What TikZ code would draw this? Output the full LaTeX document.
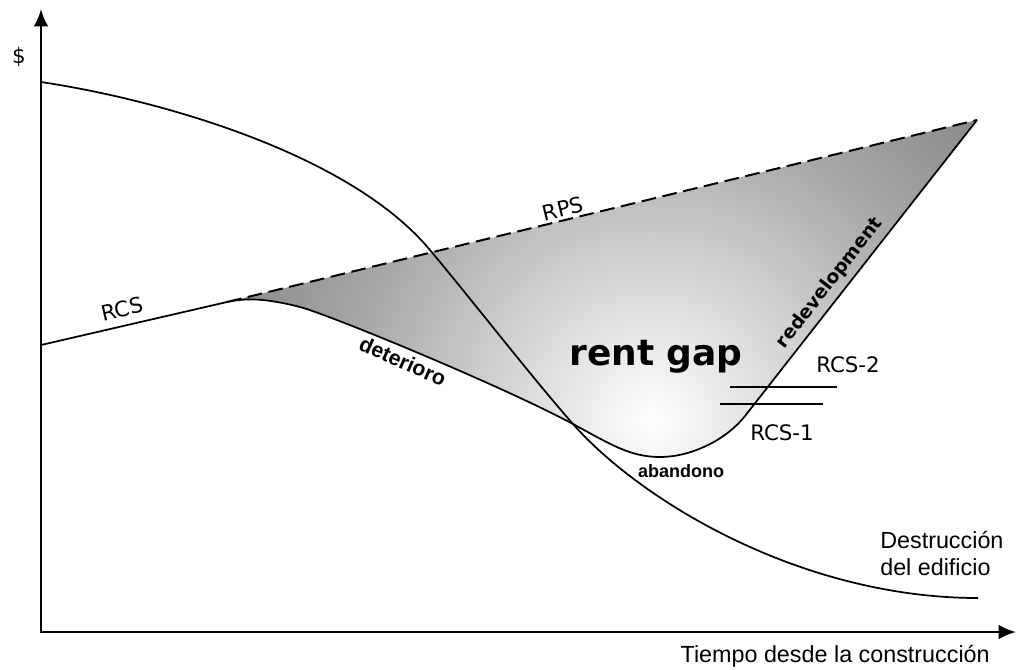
\documentclass[tikz,border=0pt]{standalone}
\usepackage{fontspec}
\usetikzlibrary{arrows.meta}
\newfontfamily\verdfont{DejaVu Sans}
\newfontfamily\arialfont{Liberation Sans}

\tikzset{
  axisline/.style={line width=2pt, {Latex[length=13pt,width=11pt]}-{Latex[length=13pt,width=11pt]}},
  rentcurve/.style={line width=1.3pt},
  rpsline/.style={line width=1.5pt, dash pattern=on 11pt off 5pt},
  lbl/.style={font=\verdfont\fontsize{16}{19}\selectfont, inner sep=0pt},
  phase/.style={inner sep=0pt},
  axislbl/.style={font=\arialfont\fontsize{17.5}{20}\selectfont, inner sep=0pt, align=left},
}

% glow of the gap, light at the bottom of the U
\pgfdeclareradialshading{gapglow}{\pgfpointorigin}{color(0bp)=(white); color(7.5bp)=(black!20); color(12.5bp)=(black!34); color(19bp)=(black!47); color(29bp)=(black!56); color(50bp)=(black!56)}

% capitalized ground rent, from the RPS start to the redevelopment line
\newcommand\rcspath{(rpsA) .. controls (245,298) and (265,298) .. (300,307) .. controls (330,315) and (500,385) .. (cross) .. controls (610,444) and (630,457) .. (660,457) .. controls (690,457) and (725,441) .. (745,416) -- (rpsB)}

\begin{document}
\begin{tikzpicture}[x=0.75pt,y=0.75pt,yscale=-1,xscale=1]
\useasboundingbox (0,0) rectangle (1017,669);

\coordinate (O) at (41,632);
\coordinate (ytop) at (41,9);
\coordinate (xend) at (1016,632);
\coordinate (rcs0) at (41,345);
\coordinate (rpsA) at (227,302);
\coordinate (rpsB) at (977,120);
\coordinate (cross) at (573,424);

%Shaded gap
\begin{scope}
\clip \rcspath -- cycle;
\shade[shading=gapglow] (652,420) circle (600);
\end{scope}

%Axes
\draw[axisline] (ytop) -- (O) -- (xend);

%RCS curve
\draw[rentcurve] (rcs0) -- \rcspath;
%RPS
\draw[rpsline] (rpsA) -- (rpsB);
%Building value
\draw[rentcurve] (41,82) .. controls (161,100) and (350,154) .. (430,250) .. controls (480,310) and (530,375) .. (cross) .. controls (640,500) and (800,598) .. (978,598);

%RCS-1 and RCS-2 levels
\coordinate (r2a) at (730,387);
\coordinate (r2b) at (837,387);
\coordinate (r1a) at (720,404);
\coordinate (r1b) at (823,404);
\draw[rentcurve] (r2a) -- (r2b);
\draw[rentcurve] (r1a) -- (r1b);

% Text Node
\node[lbl] (dollar) at (19,57) {\$};
% Text Node
\node[lbl, rotate=13] (rcs) at (122,309) {RCS};
% Text Node
\node[lbl, rotate=13.6] (rps) at (563,209) {RPS};
% Text Node
\node[lbl] (rcs2) at (848,365) {RCS-2};
% Text Node
\node[lbl] (rcs1) at (782,433) {RCS-1};
% Text Node
\node[font=\verdfont\bfseries\fontsize{27}{30}\selectfont, inner sep=0pt] (gap) at (656,357) {rent gap};
% Text Node
\node[font=\verdfont\bfseries\fontsize{14}{17}\selectfont, inner sep=0pt, rotate=52] (redev) at (830,283) {redevelopment};
% Text Node
\node[phase, font=\arialfont\bfseries\fontsize{16}{19}\selectfont, rotate=-24] (deter) at (403,361) {deterioro};
% Text Node
\node[phase, font=\arialfont\bfseries\fontsize{13.5}{16}\selectfont] (aband) at (681,471) {abandono};
% Text Node
\node[axislbl, anchor=north west] (destr) at (880,531) {Destrucción\\del edificio};
% Text Node
\node[axislbl, anchor=base east] (tiempo) at (990,662) {Tiempo desde la construcción};

\end{tikzpicture}
\end{document}
